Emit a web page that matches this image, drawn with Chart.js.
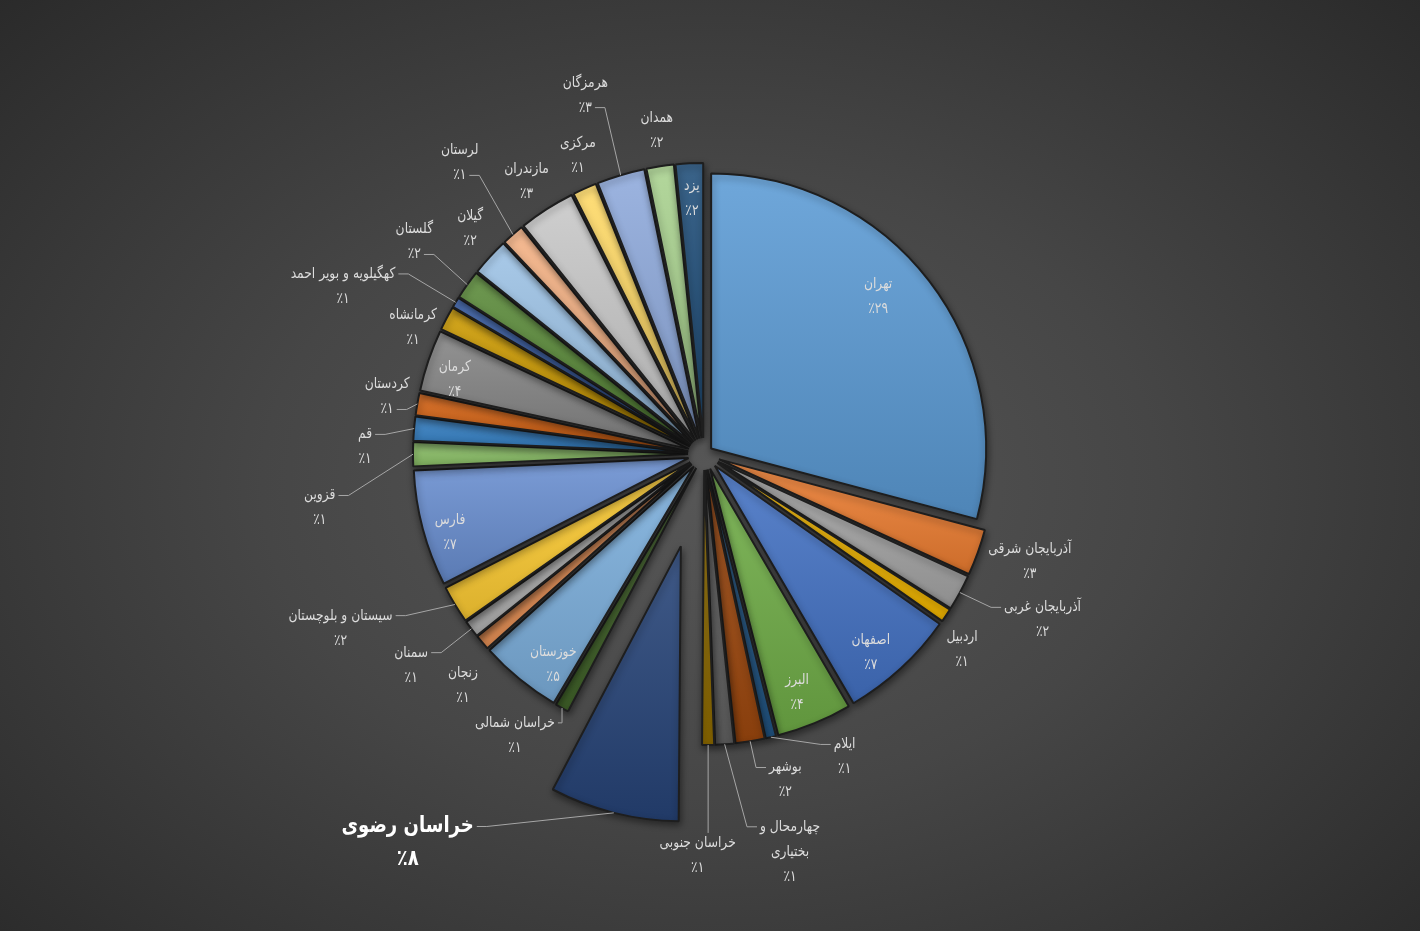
<!DOCTYPE html>
<html>
<head>
<meta charset="utf-8">
<script src="https://cdn.jsdelivr.net/npm/chart.js@4.4.1/dist/chart.umd.min.js"></script>
<style>
  html, body { margin: 0; padding: 0; overflow: hidden; }
  body {
    width: 1420px; height: 931px;
    background: radial-gradient(ellipse 70% 75% at 50% 52%, #575757 0%, #464646 45%, #2a2a2a 100%);
  }
  canvas { display: block; }
</style>
</head>
<body>
<canvas id="chart" width="1420" height="931"></canvas>
<script>
// provinces, clockwise from 12 o'clock
const provinces = [
  'تهران', 'آذربایجان شرقی', 'آذربایجان غربی', 'اردبیل', 'اصفهان', 'البرز',
  'ایلام', 'بوشهر', 'چهارمحال و\nبختیاری', 'خراسان جنوبی', 'خراسان رضوی', 'خراسان شمالی',
  'خوزستان', 'زنجان', 'سمنان', 'سیستان و بلوچستان', 'فارس', 'قزوین',
  'قم', 'کردستان', 'کرمان', 'کرمانشاه', 'کهگیلویه و بویر احمد', 'گلستان',
  'گیلان', 'لرستان', 'مازندران', 'مرکزی', 'هرمزگان', 'همدان', 'یزد'
];

// share of each province (percent)
const shares = [
  29.0, 2.7, 2.1, 0.8, 6.8, 4.4,
  0.6, 1.7, 1.1, 0.7, 7.55, 0.8,
  4.8, 0.9, 1.0, 2.2, 6.8, 1.4,
  1.4, 1.3, 3.6, 1.4, 0.6, 1.7,
  2.2, 1.3, 3.3, 1.4, 2.8, 1.6, 1.6
];

// office palette, same order as the slices
const sliceColors = [
  '#5B9BD5', '#ED7D31', '#A5A5A5', '#FFC000', '#4472C4', '#70AD47',
  '#255E91', '#9E480E', '#636363', '#997300', '#264478', '#43682B',
  '#7CAFDD', '#F1975A', '#B7B7B7', '#FFCD33', '#698ED0', '#8CC168',
  '#327DC2', '#D26012', '#848484', '#CC9A00', '#3A62AE', '#5A8A39',
  '#9DC3E6', '#F4B183', '#C9C9C9', '#FFD966', '#8FAADC', '#A9D18E', '#1F4E79'
];

// how far each slice is pulled out (px)
const explode = provinces.map((p, i) => i === 0 ? 9 : (i === 10 ? 95 : 16));

// label placement around the pie: [distance from centre, angle in degrees clockwise from top]
const labelPolar = [
  [235, 47.8], [343, 108.2], [377, 116.1], [324, 127.2], [259, 139.9], [256, 158.7],
  [334, 155.1], [336, 166.0], [407, 167.8], [402, 180.9], [489, 217.3], [339, 213.9],
  [259, 215.6], [334, 226.2], [361, 234.2], [403, 244.4], [266, 252.7], [388, 262.0],
  [339, 271.2], [322, 280.2], [260, 286.6], [317, 293.4], [398, 294.9], [359, 306.2],
  [325, 314.0], [380, 320.0], [325, 326.9], [324, 337.1], [378, 341.7], [327, 351.7], [256, 357.3]
];
// leader line: -1 none, otherwise which text line it joins (0 = name, 1 = last line)
const leaderAt = [
  -1, -1, 0, -1, -1, -1,
  0, 0, 0, 0, 0, 0,
  -1, -1, 0, 0, -1, 0,
  0, 1, -1, -1, 0, 1,
  -1, 1, -1, -1, 1, -1, -1
];

const faDigits = '۰۱۲۳۴۵۶۷۸۹';
const toFa = n => String(n).replace(/\d/g, d => faDigits[d]);
const total = shares.reduce((a, b) => a + b, 0);

function shade(hex, amt) {
  const n = parseInt(hex.slice(1), 16);
  let r = n >> 16, g = (n >> 8) & 255, b = n & 255;
  const t = amt > 0 ? 255 : 0, p = Math.abs(amt);
  r = Math.round(r + (t - r) * p); g = Math.round(g + (t - g) * p); b = Math.round(b + (t - b) * p);
  return 'rgb(' + r + ',' + g + ',' + b + ')';
}

function pieCentre(chart) {
  const a = chart.chartArea;
  return { x: (a.left + a.right) / 2, y: (a.top + a.bottom) / 2 };
}

// vertical gradient per slice, light on top, dark at the bottom
function sliceFill(ctx) {
  const chart = ctx.chart, i = ctx.dataIndex;
  if (!chart.chartArea) return sliceColors[i];
  const R = ctx.dataset.radius;
  const c = pieCentre(chart);
  let cum = 0;
  for (let k = 0; k < i; k++) cum += shares[k];
  const a0 = -Math.PI / 2 + 2 * Math.PI * cum / total;
  const a1 = a0 + 2 * Math.PI * shares[i] / total;
  const mid = (a0 + a1) / 2;
  const ox = c.x + Math.cos(mid) * explode[i], oy = c.y + Math.sin(mid) * explode[i];
  const ys = [oy, oy + R * Math.sin(a0), oy + R * Math.sin(a1)];
  if (a0 < Math.PI / 2 && a1 > Math.PI / 2) ys.push(oy + R);
  if (a1 >= 3 * Math.PI / 2 - 1e-6 || a0 <= -Math.PI / 2 + 1e-6) ys.push(oy - R);
  const top = Math.min(...ys), bot = Math.max(...ys);
  const g = chart.ctx.createLinearGradient(0, top, 0, bot + 1);
  g.addColorStop(0, shade(sliceColors[i], 0.12));
  g.addColorStop(1, shade(sliceColors[i], -0.14));
  return g;
}

const explodePlugin = {
  id: 'explode',
  beforeDatasetsDraw(chart) {
    const c = pieCentre(chart);
    chart.getDatasetMeta(0).data.forEach((arc, i) => {
      const mid = (arc.startAngle + arc.endAngle) / 2;
      arc.x = c.x + Math.cos(mid) * explode[i];
      arc.y = c.y + Math.sin(mid) * explode[i];
    });
    const ctx = chart.ctx;
    ctx.save();
    ctx.shadowColor = 'rgba(0,0,0,0.45)';
    ctx.shadowBlur = 7;
    ctx.shadowOffsetX = 1;
    ctx.shadowOffsetY = 3;
  },
  afterDatasetsDraw(chart) {
    chart.ctx.restore();
  }
};

// the labels use a narrow face, so the text is squeezed sideways a little
const textSqueeze = 0.82;

const labelPlugin = {
  id: 'sliceLabels',
  afterDatasetsDraw(chart) {
    const ctx = chart.ctx;
    const c = pieCentre(chart);
    const arcs = chart.getDatasetMeta(0).data;
    ctx.save();
    ctx.textAlign = 'center';
    ctx.textBaseline = 'middle';
    arcs.forEach((arc, i) => {
      const big = i === 10;
      const lh = big ? 33 : 25;
      ctx.font = big ? 'bold 22px "DejaVu Sans"' : '15px "DejaVu Sans"';
      const lines = provinces[i].split('\n');
      lines.push('٪' + toFa(Math.round(shares[i] / total * 100)));
      const rad = labelPolar[i][1] * Math.PI / 180;
      const lx = c.x + labelPolar[i][0] * Math.sin(rad);
      const ly = c.y - labelPolar[i][0] * Math.cos(rad);
      const y0 = ly - (lines.length - 1) * lh / 2;

      if (leaderAt[i] >= 0) {
        const li = leaderAt[i] === 0 ? 0 : lines.length - 1;
        const ay = y0 + li * lh;
        const hw = ctx.measureText(lines[li]).width * textSqueeze / 2;
        const mid = (arc.startAngle + arc.endAngle) / 2;
        const px = arc.x + Math.cos(mid) * arc.outerRadius;
        const py = arc.y + Math.sin(mid) * arc.outerRadius;
        ctx.strokeStyle = '#a6a6a6';
        ctx.lineWidth = 1;
        ctx.beginPath();
        ctx.moveTo(px, py);
        if (px > lx - hw && px < lx + hw) {
          const ty = py < ly ? y0 - lh / 2 + 2 : y0 + (lines.length - 1) * lh + lh / 2 - 4;
          ctx.lineTo(px, ty);
        } else {
          const side = px < lx ? -1 : 1;
          const ex = lx + side * (hw + 3);
          const elbow = ex + side * Math.min(10, Math.abs(px - ex));
          ctx.lineTo(elbow, ay);
          ctx.lineTo(ex, ay);
        }
        ctx.stroke();
      }

      ctx.fillStyle = big ? '#ffffff' : '#dcdcdc';
      lines.forEach((t, k) => {
        ctx.save();
        ctx.translate(lx, y0 + k * lh);
        ctx.scale(textSqueeze, 1);
        ctx.fillText(t, 0, 0);
        ctx.restore();
      });
    });
    ctx.restore();
  }
};

new Chart(document.getElementById('chart'), {
  type: 'pie',
  data: {
    labels: provinces,
    datasets: [{
      data: shares,
      radius: 275,
      backgroundColor: sliceFill,
      borderColor: '#1e1e1e',
      borderWidth: 2
    }]
  },
  options: {
    responsive: false,
    animation: false,
    layout: { padding: { left: 0, right: 12, top: 0, bottom: 23 } },
    plugins: {
      legend: { display: false },
      tooltip: { enabled: false }
    }
  },
  plugins: [explodePlugin, labelPlugin]
});
</script>
</body>
</html>
